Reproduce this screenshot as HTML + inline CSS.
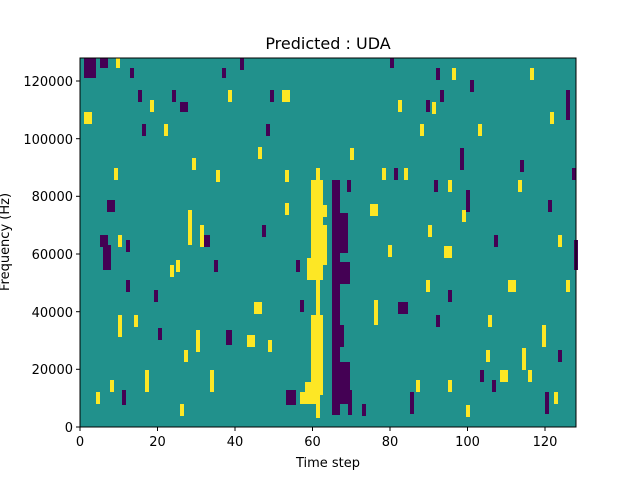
<!DOCTYPE html>
<html><head><style>body{margin:0;background:#fff}svg{display:block}text{font-family:"DejaVu Sans","Liberation Sans",sans-serif}</style></head><body>
<svg width="640" height="480" xmlns="http://www.w3.org/2000/svg">
<rect width="640" height="480" fill="#fff"/>
<rect x="80" y="58" width="496" height="369" fill="#21918c"/>
<g fill="#fde725">
<rect x="311" y="180" width="12" height="100"/>
<rect x="307" y="258" width="16" height="22"/>
<rect x="316" y="168" width="4" height="250"/>
<rect x="311" y="315" width="12" height="80"/>
<rect x="305" y="382" width="12" height="22"/>
<rect x="300" y="392" width="12" height="12"/>
<rect x="285" y="170" width="4" height="12"/>
<rect x="285" y="203" width="4" height="12"/>
<rect x="323" y="205" width="4" height="12"/>
<rect x="323" y="225" width="4" height="40"/>
<rect x="84" y="112" width="8" height="12"/>
<rect x="282" y="90" width="8" height="12"/>
<rect x="254" y="302" width="8" height="12"/>
<rect x="444" y="246" width="8" height="12"/>
<rect x="508" y="280" width="8" height="12"/>
<rect x="500" y="370" width="8" height="12"/>
<rect x="370" y="204" width="8" height="12"/>
<rect x="258" y="147" width="4" height="12"/>
<rect x="118" y="315" width="4" height="22"/>
<rect x="134" y="315" width="4" height="12"/>
<rect x="210" y="370" width="4" height="22"/>
<rect x="145" y="370" width="4" height="22"/>
<rect x="188" y="210" width="4" height="35"/>
<rect x="170" y="265" width="4" height="12"/>
<rect x="542" y="325" width="4" height="22"/>
<rect x="522" y="348" width="4" height="22"/>
<rect x="374" y="300" width="4" height="25"/>
<rect x="558" y="235" width="4" height="12"/>
<rect x="452" y="68" width="4" height="12"/>
<rect x="432" y="102" width="4" height="12"/>
<rect x="518" y="180" width="4" height="12"/>
<rect x="192" y="158" width="4" height="12"/>
<rect x="96" y="392" width="4" height="12"/>
<rect x="466" y="405" width="4" height="12"/>
<rect x="247" y="335" width="8" height="12"/>
<rect x="114" y="168" width="4" height="12"/>
<rect x="118" y="235" width="4" height="12"/>
<rect x="110" y="380" width="4" height="12"/>
<rect x="150" y="100" width="4" height="12"/>
<rect x="164" y="124" width="4" height="12"/>
<rect x="176" y="260" width="4" height="12"/>
<rect x="184" y="350" width="4" height="12"/>
<rect x="196" y="330" width="4" height="22"/>
<rect x="200" y="225" width="4" height="22"/>
<rect x="180" y="404" width="4" height="12"/>
<rect x="216" y="170" width="4" height="12"/>
<rect x="268" y="340" width="4" height="12"/>
<rect x="350" y="148" width="4" height="12"/>
<rect x="382" y="168" width="4" height="12"/>
<rect x="398" y="100" width="4" height="12"/>
<rect x="420" y="124" width="4" height="12"/>
<rect x="404" y="168" width="4" height="12"/>
<rect x="426" y="280" width="4" height="12"/>
<rect x="448" y="180" width="4" height="12"/>
<rect x="428" y="225" width="4" height="12"/>
<rect x="462" y="210" width="4" height="12"/>
<rect x="478" y="124" width="4" height="12"/>
<rect x="488" y="315" width="4" height="12"/>
<rect x="486" y="350" width="4" height="12"/>
<rect x="530" y="68" width="4" height="12"/>
<rect x="550" y="112" width="4" height="12"/>
<rect x="566" y="280" width="4" height="12"/>
<rect x="554" y="392" width="4" height="12"/>
<rect x="528" y="370" width="4" height="12"/>
<rect x="416" y="380" width="4" height="12"/>
<rect x="448" y="380" width="4" height="12"/>
<rect x="388" y="245" width="4" height="12"/>
<rect x="116" y="58" width="4" height="10"/>
<rect x="228" y="90" width="4" height="12"/>
</g>
<g fill="#440154">
<rect x="84" y="58" width="12" height="20"/>
<rect x="100" y="58" width="8" height="10"/>
<rect x="103" y="245" width="8" height="25"/>
<rect x="100" y="235" width="8" height="12"/>
<rect x="107" y="200" width="8" height="12"/>
<rect x="122" y="390" width="4" height="15"/>
<rect x="332" y="180" width="8" height="235"/>
<rect x="336" y="213" width="12" height="40"/>
<rect x="340" y="262" width="10" height="22"/>
<rect x="336" y="362" width="14" height="42"/>
<rect x="336" y="325" width="8" height="22"/>
<rect x="348" y="390" width="4" height="25"/>
<rect x="347" y="180" width="4" height="12"/>
<rect x="300" y="300" width="4" height="12"/>
<rect x="574" y="240" width="4" height="30"/>
<rect x="226" y="330" width="6" height="15"/>
<rect x="286" y="390" width="10" height="15"/>
<rect x="398" y="302" width="10" height="12"/>
<rect x="204" y="235" width="6" height="12"/>
<rect x="460" y="148" width="4" height="22"/>
<rect x="436" y="68" width="4" height="12"/>
<rect x="466" y="190" width="4" height="22"/>
<rect x="494" y="235" width="4" height="12"/>
<rect x="566" y="90" width="4" height="30"/>
<rect x="240" y="58" width="4" height="12"/>
<rect x="130" y="68" width="4" height="10"/>
<rect x="180" y="102" width="8" height="10"/>
<rect x="545" y="392" width="4" height="22"/>
<rect x="410" y="392" width="4" height="22"/>
<rect x="154" y="290" width="4" height="12"/>
<rect x="262" y="225" width="4" height="12"/>
<rect x="138" y="90" width="4" height="12"/>
<rect x="142" y="124" width="4" height="12"/>
<rect x="126" y="280" width="4" height="12"/>
<rect x="158" y="328" width="4" height="12"/>
<rect x="172" y="90" width="4" height="12"/>
<rect x="214" y="260" width="4" height="12"/>
<rect x="222" y="68" width="4" height="10"/>
<rect x="270" y="90" width="4" height="12"/>
<rect x="266" y="124" width="4" height="12"/>
<rect x="296" y="260" width="4" height="12"/>
<rect x="362" y="404" width="4" height="12"/>
<rect x="390" y="58" width="4" height="10"/>
<rect x="394" y="168" width="4" height="12"/>
<rect x="426" y="100" width="4" height="12"/>
<rect x="434" y="180" width="4" height="12"/>
<rect x="440" y="90" width="4" height="12"/>
<rect x="448" y="290" width="4" height="12"/>
<rect x="436" y="315" width="4" height="12"/>
<rect x="480" y="370" width="4" height="12"/>
<rect x="492" y="380" width="4" height="12"/>
<rect x="520" y="160" width="4" height="12"/>
<rect x="548" y="200" width="4" height="12"/>
<rect x="558" y="350" width="4" height="12"/>
<rect x="572" y="168" width="4" height="12"/>
<rect x="470" y="80" width="4" height="12"/>
<rect x="126" y="240" width="4" height="12"/>
</g>
<rect x="80" y="58" width="496" height="369" fill="none" stroke="#000" stroke-width="1"/>
<g stroke="#000">
<line x1="80" y1="427" x2="80" y2="431"/><line x1="157.5" y1="427" x2="157.5" y2="431"/><line x1="235" y1="427" x2="235" y2="431"/><line x1="312.5" y1="427" x2="312.5" y2="431"/><line x1="390" y1="427" x2="390" y2="431"/><line x1="467.5" y1="427" x2="467.5" y2="431"/><line x1="545" y1="427" x2="545" y2="431"/>
<line x1="76" y1="427" x2="80" y2="427"/><line x1="76" y1="369.3" x2="80" y2="369.3"/><line x1="76" y1="311.7" x2="80" y2="311.7"/><line x1="76" y1="254" x2="80" y2="254"/><line x1="76" y1="196.3" x2="80" y2="196.3"/><line x1="76" y1="138.7" x2="80" y2="138.7"/><line x1="76" y1="81" x2="80" y2="81"/>
</g>
<g font-size="13" text-anchor="middle">
<text x="80" y="446">0</text><text x="157.5" y="446">20</text><text x="235" y="446">40</text><text x="312.5" y="446">60</text><text x="390" y="446">80</text><text x="467.5" y="446">100</text><text x="545" y="446">120</text>
<text x="328" y="467">Time step</text>
<text x="328" y="49" font-size="16">Predicted : UDA</text>
</g>
<g font-size="13" text-anchor="end">
<text x="73" y="432">0</text><text x="73" y="374">20000</text><text x="73" y="317">40000</text><text x="73" y="259">60000</text><text x="73" y="201">80000</text><text x="73" y="144">100000</text><text x="73" y="86">120000</text>
</g>
<text font-size="13" text-anchor="middle" transform="translate(9,242) rotate(-90)">Frequency (Hz)</text>
</svg>
</body></html>
